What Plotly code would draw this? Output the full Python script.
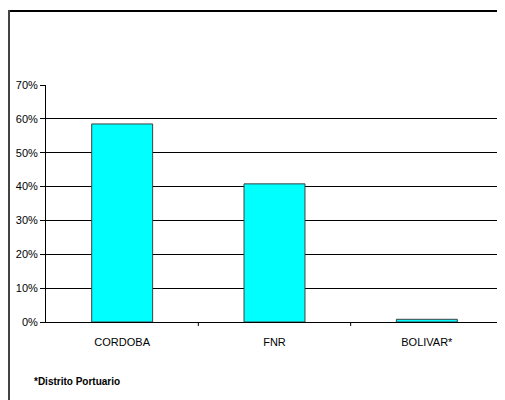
import plotly.graph_objects as go

categories = ["CORDOBA", "FNR", "BOLIVAR*"]
values = [0.585, 0.408, 0.008]
y_ticks = [0, 0.1, 0.2, 0.3, 0.4, 0.5, 0.6, 0.7]
y_tick_labels = ["0%", "10%", "20%", "30%", "40%", "50%", "60%", "70%"]
footnote = "*Distrito Portuario"

# page body has an 8px margin; figure coordinates are screen - 8
OFF = 8
W, H = 505 - OFF, 400 - OFF
L, R, T, B = 46 - OFF, 2, 85 - OFF, 400 - 322
pw, ph = W - L - R, H - T - B

def px(x):
    return (x - OFF - L) / pw

def py(y):
    return (H - B - (y - OFF)) / ph

FONT = "Liberation Sans, Arial, sans-serif"

fig = go.Figure()
fig.add_trace(go.Bar(
    x=categories, y=values,
    marker=dict(color="#00FFFF", line=dict(color="#404040", width=1)),
    width=0.4,
))

fig.update_layout(
    width=W, height=H,
    margin=dict(l=L, r=R, t=T, b=B),
    paper_bgcolor="white", plot_bgcolor="white",
    showlegend=False,
    font=dict(family=FONT, size=11, color="black"),
    xaxis=dict(
        showgrid=False, showline=True, linecolor="black", linewidth=1,
        ticks="", tickfont=dict(size=11), ticklabelstandoff=10,
    ),
    yaxis=dict(
        range=[0, 0.7], tickvals=y_ticks, ticktext=y_tick_labels,
        showgrid=True, gridcolor="black", gridwidth=1,
        showline=True, linecolor="black", linewidth=1, mirror=True,
        ticks="outside", ticklen=5, tickcolor="black",
        zeroline=False, tickfont=dict(size=11),
    ),
    shapes=[
        # category separator ticks
        dict(type="line", xref="x", yref="paper", x0=0.5, x1=0.5, y0=0, y1=py(326), line=dict(color="black", width=1)),
        dict(type="line", xref="x", yref="paper", x0=1.5, x1=1.5, y0=0, y1=py(326), line=dict(color="black", width=1)),
        # outer frame
        dict(type="line", xref="paper", yref="paper", x0=px(8), x1=px(510), y0=py(11), y1=py(11), line=dict(color="black", width=2)),
        dict(type="line", xref="paper", yref="paper", x0=px(9), x1=px(9), y0=py(10), y1=py(405), line=dict(color="#444444", width=2)),
    ],
    annotations=[
        dict(text="<b>" + footnote + "</b>", xref="paper", yref="paper",
             x=px(32), y=py(381), xanchor="left", yanchor="middle",
             showarrow=False, font=dict(size=10, color="black")),
    ],
)

fig.write_html("out.html")
